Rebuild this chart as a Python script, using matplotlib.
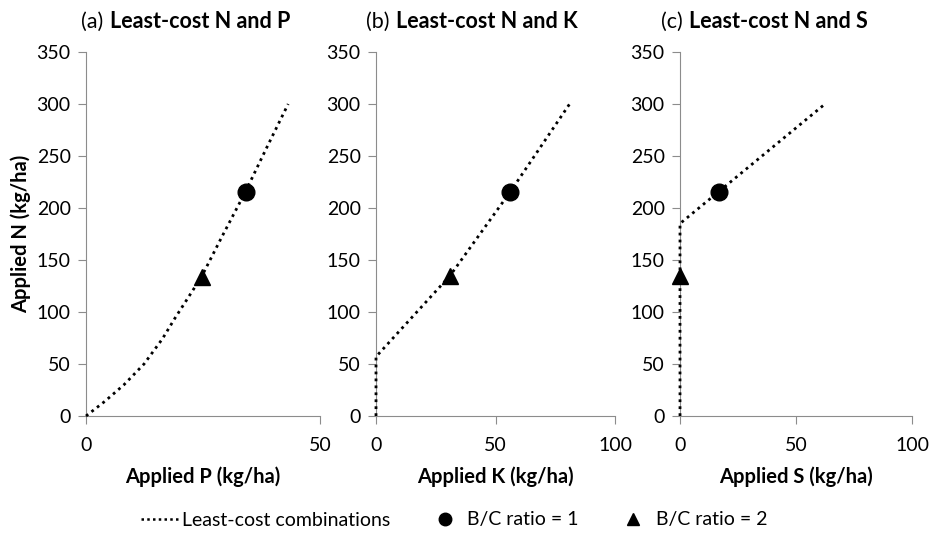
import numpy as np
import matplotlib.pyplot as plt
from matplotlib.lines import Line2D

plt.rcParams['font.family'] = ['Lato', 'DejaVu Sans']

# least-cost curves (x = applied P/K/S, y = applied N)
p_x = [0, 4, 8.1, 12.4, 16.3, 19, 24.7, 29, 34, 38.5, 43.2]
p_y = [0, 14, 30, 50, 74, 94, 134, 172, 215, 257, 300]
k_x = [0, 0, 31, 56, 81]
k_y = [0, 57, 135, 215, 300]
s_x = [0, 0, 62.5]
s_y = [0, 185, 300]

# B/C ratio points
bc1 = {"P": (34.2, 215), "K": (56.2, 215), "S": (17, 215)}
bc2 = {"P": (24.7, 134), "K": (31, 135), "S": (0, 135)}

panels = [
    ("(a)", "Least-cost N and P", "Applied P (kg/ha)", p_x, p_y, "P", 50, [0, 50]),
    ("(b)", "Least-cost N and K", "Applied K (kg/ha)", k_x, k_y, "K", 100, [0, 50, 100]),
    ("(c)", "Least-cost N and S", "Applied S (kg/ha)", s_x, s_y, "S", 100, [0, 50, 100]),
]
boxes = [(86, 320), (376, 615), (680, 912)]
title_x = [(81, 110), (366, 396), (661, 689)]

W, H = 932, 540
fig = plt.figure(figsize=(W / 100, H / 100), dpi=100)

for i, (tag, title, xlab, xs, ys, key, xmax, xt) in enumerate(panels):
    x0, x1 = boxes[i]
    ax = fig.add_axes([x0 / W, 1 - 416 / H, (x1 - x0) / W, 364 / H])
    ax.plot(xs, ys, color='black', linestyle=(0, (1, 1.5)), linewidth=2,
            clip_on=False, zorder=5)
    ax.plot(*bc1[key], 'o', color='black', markersize=12, clip_on=False, zorder=6)
    ax.plot(*bc2[key], '^', color='black', markersize=12, clip_on=False, zorder=6)
    ax.set_xlim(0, xmax)
    ax.set_ylim(0, 350)
    ax.set_xticks(xt)
    ax.set_yticks(range(0, 351, 50))
    for s in ['top', 'right']:
        ax.spines[s].set_visible(False)
    for s in ['left', 'bottom']:
        ax.spines[s].set_color('#8c8c8c')
    ax.tick_params(colors='#8c8c8c', labelcolor='black', labelsize=14, length=6)
    ax.tick_params(axis='x', pad=9)
    ax.tick_params(axis='y', pad=5)
    ax.set_xlabel(xlab, fontsize=14.5, fontweight='bold', labelpad=9)
    if i == 0:
        ax.set_ylabel("Applied N (kg/ha)", fontsize=14.5, fontweight='bold', labelpad=4)
    fig.text(title_x[i][0] / W, 1 - 28 / H, tag, fontsize=15.5, va='baseline')
    fig.text(title_x[i][1] / W, 1 - 28 / H, title, fontsize=15.5, fontweight='bold', va='baseline')

handles = [
    Line2D([], [], color='black', linestyle=(0, (1, 1.3)), linewidth=1.8),
    Line2D([], [], marker='o', color='black', linestyle='none', markersize=9),
    Line2D([], [], marker='^', color='black', linestyle='none', markersize=9),
]
labels = ["Least-cost combinations", "B/C ratio = 1", "B/C ratio = 2"]
fig.legend(handles, labels, loc='center', bbox_to_anchor=(0.487, 1 - 520 / H), ncol=3,
           frameon=False, fontsize=14, handlelength=2.0, handletextpad=0.15,
           columnspacing=1.8)

fig.savefig("out.png", dpi=100)
